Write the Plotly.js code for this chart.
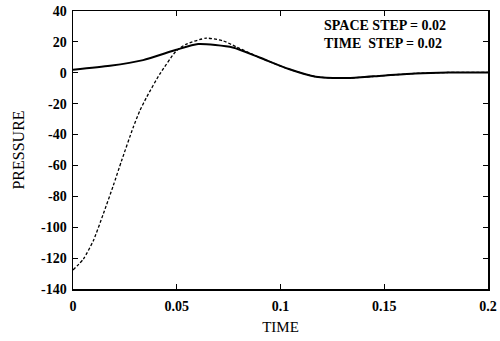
<!DOCTYPE html>
<html>
<head>
<meta charset="utf-8">
<script src="https://cdn.plot.ly/plotly-3.0.1.min.js"></script>
<style>html,body{margin:0;padding:0;background:#fff;}#chart{width:500px;height:341px;}</style>
</head>
<body>
<div id="chart"></div>
<script>
var timeSolid = [0, 0.0178, 0.0338, 0.0498, 0.0603, 0.077, 0.0899, 0.104, 0.117, 0.133, 0.149, 0.165, 0.181, 0.2];
var pressureSolid = [2, 4.5, 8.2, 14.9, 18.6, 16.4, 9.9, 2.4, -2.6, -3.4, -1.9, -0.4, 0.2, 0.2];

var timeDashed = [0, 0.005, 0.0098, 0.0146, 0.0194, 0.0234, 0.029, 0.0322, 0.0354, 0.0418, 0.0498, 0.0547, 0.0643, 0.0723, 0.0787, 0.0899, 0.104, 0.117, 0.133, 0.149, 0.165, 0.181, 0.2];
var pressureDashed = [-127.7, -120.6, -108.7, -91.4, -73.1, -57, -35.4, -24.6, -16, -0.9, 14.2, 18.6, 22.4, 20.7, 16.8, 9.9, 2.4, -2.6, -3.4, -1.9, -0.4, 0.2, 0.2];

var xTicks = [0, 0.05, 0.1, 0.15, 0.2];
var xTickText = ['0', '0.05', '0.1', '0.15', '0.2'];
var yTicks = [40, 20, 0, -20, -40, -60, -80, -100, -120, -140];
var yTickText = ['40', '20', '0', '-20', '-40', '-60', '-80', '-100', '-120', '-140'];

var noteLines = ['SPACE STEP = 0.02', 'TIME&nbsp;&nbsp;STEP = 0.02'];

var fontFam = '"Liberation Serif", "DejaVu Serif", serif';

var traces = [
  {x: timeSolid, y: pressureSolid, mode: 'lines', line: {color: '#000', width: 2, shape: 'spline', smoothing: 0.6}, hoverinfo: 'skip'},
  {x: timeDashed, y: pressureDashed, mode: 'lines', line: {color: '#000', width: 1.3, dash: '3px,2px', shape: 'spline', smoothing: 0.6}, hoverinfo: 'skip'}
];

var layout = {
  width: 500, height: 341,
  margin: {l: 73, r: 12, t: 11, b: 52},
  paper_bgcolor: '#fff', plot_bgcolor: '#fff',
  showlegend: false,
  font: {family: fontFam, color: '#000', size: 14},
  xaxis: {
    range: [0, 0.2], tickvals: xTicks, ticktext: xTickText,
    ticks: 'inside', ticklen: 5, tickcolor: '#000', tickwidth: 1.2,
    showline: true, linecolor: '#000', linewidth: 1.5, mirror: 'ticks',
    showgrid: false, zeroline: false, ticklabelstandoff: 4,
    tickfont: {family: fontFam, size: 14, color: '#000', weight: 'bold'},
    title: {text: 'TIME', font: {family: fontFam, size: 15, color: '#000'}, standoff: 8}
  },
  yaxis: {
    range: [-140, 40], tickvals: yTicks, ticktext: yTickText,
    ticks: 'inside', ticklen: 5, tickcolor: '#000', tickwidth: 1.2,
    showline: true, linecolor: '#000', linewidth: 1.5, mirror: 'ticks',
    showgrid: false, zeroline: false, ticklabelstandoff: 2,
    tickfont: {family: fontFam, size: 14, color: '#000', weight: 'bold'},
    title: {text: 'PRESSURE', font: {family: fontFam, size: 16, color: '#000'}, standoff: 12}
  },
  annotations: [
    {xref: 'paper', yref: 'paper', x: 0.6, y: 0.915, xanchor: 'left', yanchor: 'middle', showarrow: false,
     align: 'left',
     text: noteLines[0] + '<br>' + noteLines[1], font: {family: fontFam, size: 14, color: '#000', weight: 'bold'}}
  ]
};
layout.annotations[0].x = (322 - 73) / (488 - 73);

Plotly.newPlot('chart', traces, layout, {staticPlot: true, displayModeBar: false});
</script>
</body>
</html>
